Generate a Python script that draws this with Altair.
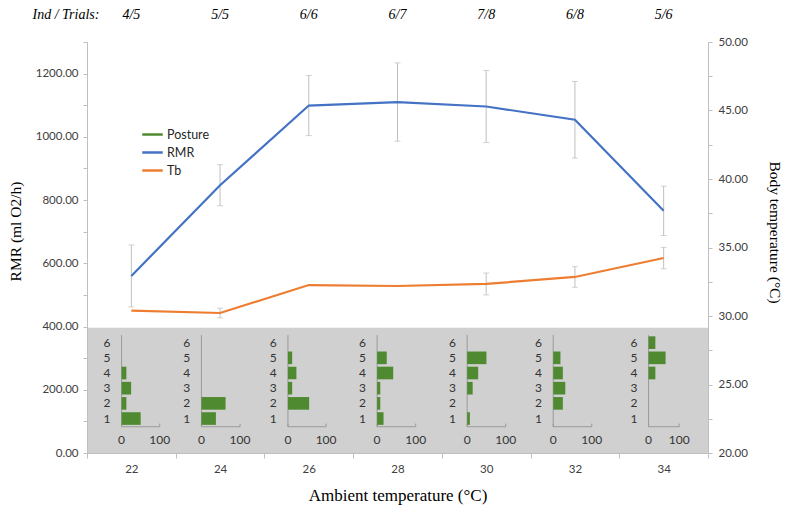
import altair as alt
import pandas as pd

# ---------------- data ----------------
temps = [22, 24, 26, 28, 30, 32, 34]
trials = ["4/5", "5/5", "6/6", "6/7", "7/8", "6/8", "5/6"]
rmr = [560, 847, 1099, 1110, 1096, 1054, 766]
rmr_err = [98, 65, 95, 124, 114, 121, 78]
tb = [30.39, 30.22, 32.26, 32.19, 32.34, 32.85, 34.23]
tb_err = [0, 0.35, 0, 0, 0.8, 0.75, 0.78]
posture_levels = [1, 2, 3, 4, 5, 6]
posture_1 = [50.0, 37.5, 0, 16.7, 7.1, 0, 0]
posture_2 = [12.5, 62.5, 55.6, 8.3, 0, 25.0, 0]
posture_3 = [25.0, 0, 11.1, 8.3, 14.3, 31.3, 0]
posture_4 = [12.5, 0, 22.2, 41.7, 28.6, 25.0, 22.2]
posture_5 = [0, 0, 11.1, 25.0, 50.0, 18.8, 55.6]
posture_6 = [0, 0, 0, 0, 0, 0, 22.2]
posture_pct = [posture_1, posture_2, posture_3, posture_4, posture_5, posture_6]
pct_ticks = [0, 100]

# ---------------- inset layout (in axis units) ----------------
inset_dx = [-0.22, -0.42, -0.47, -0.46, -0.43, -0.49, -0.34]
inset_w = [0.86, 0.87, 0.86, 0.87, 0.87, 0.87, 0.69]
LEVEL_Y0, LEVEL_STEP, BAR_HALF = 61, 48, 20
AX_BOTTOM, AX_TOP = 83, 373
LABEL_Y = 40
CAT_LABEL_DX = 0.33

GREEN = "#508a30"
BLUE = "#4472c4"
ORANGE = "#ed7d31"
GRAY_BG = "#d0d0d0"
ERR = "#bfbfbf"
AXIS_C = "#bfbfbf"
SANS = "Lato"
SERIF = "Liberation Serif"

main = pd.DataFrame({"temp": temps, "rmr": rmr, "rmr_err": rmr_err,
                     "tb": tb, "tb_err": tb_err, "trials": trials})
main["rmr_lo"] = main.rmr - main.rmr_err
main["rmr_hi"] = main.rmr + main.rmr_err
main["tb_lo"] = main.tb - main.tb_err
main["tb_hi"] = main.tb + main.tb_err
main["series_rmr"] = "RMR"
main["series_tb"] = "Tb"

bars, vax, hax, cat_lab, pct_lab, pct_tick = [], [], [], [], [], []
for i, t in enumerate(temps):
    x0 = t + inset_dx[i]
    w = inset_w[i]
    for L, arr in zip(posture_levels, posture_pct):
        yc = LEVEL_Y0 + LEVEL_STEP * L
        cat_lab.append({"x": x0 - CAT_LABEL_DX, "y": yc, "text": str(L)})
        if arr[i] > 0:
            bars.append({"x0": x0, "x1": x0 + arr[i] / 100 * w,
                         "y0": yc - BAR_HALF, "y1": yc + BAR_HALF})
    vax.append({"x": x0, "y0": AX_BOTTOM, "y1": AX_TOP})
    hax.append({"x0": x0, "x1": x0 + w, "y": AX_BOTTOM})
    for p in pct_ticks:
        pct_lab.append({"x": x0 + p / 100 * w, "y": LABEL_Y, "text": str(p)})
        pct_tick.append({"x": x0 + p / 100 * w, "y0": AX_BOTTOM, "y1": AX_BOTTOM + 10})
bars, vax, hax = pd.DataFrame(bars), pd.DataFrame(vax), pd.DataFrame(hax)
cat_lab, pct_lab, pct_tick = pd.DataFrame(cat_lab), pd.DataFrame(pct_lab), pd.DataFrame(pct_tick)

bg = pd.DataFrame({"x0": [21], "x1": [35], "y0": [0], "y1": [396]})
head = pd.DataFrame({"text": ["Ind / Trials:"]})

# ---------------- scales / axes ----------------
W, H = 621, 411
x_scale = alt.Scale(domain=[21, 35], nice=False, zero=False)
x_axis = alt.Axis(values=[21, 23, 25, 27, 29, 31, 33, 35],
                  labelExpr="datum.value < 35 ? toString(datum.value + 1) : ''",
                  labelOffset=W / 14, labelFlush=False, labelOverlap=False,
                  grid=False, tickSize=5, tickColor=AXIS_C, domainColor=AXIS_C,
                  labelPadding=5, labelFontSize=11.5, labelColor="#404040", labelFont=SANS,
                  title="Ambient temperature (°C)", titleFont=SERIF, titleFontSize=17,
                  titleFontWeight="normal", titleColor="black",
                  titleX=W / 2, titleY=47, titleBaseline="alphabetic", zindex=1)
yl_scale = alt.Scale(domain=[0, 1300], nice=False, zero=False)
yl_axis = alt.Axis(values=list(range(0, 1301, 100)),
                   labelExpr="datum.value % 200 === 0 ? format(datum.value, '.2f') : ''",
                   grid=False, tickSize=4, tickColor=AXIS_C, domainColor=AXIS_C,
                   labelPadding=5, labelFontSize=11.5, labelColor="#404040", labelFont=SANS,
                   labelOverlap=False,
                   title="RMR (ml O2/h)", titleFont=SERIF, titleFontSize=15.5,
                   titleFontWeight="normal", titleColor="black",
                   titleX=-72, titleY=189, titleAngle=270, titleAlign="center",
                   titleBaseline="middle", zindex=1)
yr_scale = alt.Scale(domain=[20, 50], nice=False, zero=False)
yr_axis = alt.Axis(orient="right", values=[20 + 2.5 * k for k in range(13)],
                   labelExpr="datum.value % 5 === 0 ? format(datum.value, '.2f') : ''",
                   grid=False, tickSize=4, tickColor=AXIS_C, domainColor=AXIS_C,
                   labelPadding=6, labelFontSize=11.5, labelColor="#404040", labelFont=SANS,
                   labelOverlap=False,
                   title="Body temperature (°C)", titleFont=SERIF, titleFontSize=15.5,
                   titleFontWeight="normal", titleColor="black",
                   titleX=66, titleY=190, titleAngle=90, titleAlign="center",
                   titleBaseline="middle", zindex=1)


def X(f):
    return alt.X(f, type="quantitative", scale=x_scale, axis=x_axis)


def YL(f):
    return alt.Y(f, type="quantitative", scale=yl_scale, axis=yl_axis)


def YR(f):
    return alt.Y(f, type="quantitative", scale=yr_scale, axis=yr_axis)


color_scale = alt.Scale(domain=["Posture", "RMR", "Tb"], range=[GREEN, BLUE, ORANGE])
color_legend = alt.Legend(title=None, orient="none", legendX=54, legendY=81,
                          symbolType="stroke", symbolSize=420, symbolStrokeWidth=2.5,
                          labelFont=SANS, labelFontSize=12.5, labelColor="#262626",
                          labelOffset=3, rowPadding=0, padding=0)


def C(f):
    return alt.Color(f, type="nominal", scale=color_scale, legend=color_legend)


# ---------------- left (RMR) group ----------------
rect_bg = alt.Chart(bg).mark_rect(color=GRAY_BG).encode(
    x=X("x0"), x2="x1", y=YL("y0"), y2="y1")

rmr_rule = alt.Chart(main).mark_rule(color=ERR, strokeWidth=1).encode(
    x=X("temp"), y=YL("rmr_lo"), y2="rmr_hi")
rmr_cap_lo = alt.Chart(main).mark_tick(color=ERR, orient="horizontal", size=6, thickness=1).encode(
    x=X("temp"), y=YL("rmr_lo"))
rmr_cap_hi = alt.Chart(main).mark_tick(color=ERR, orient="horizontal", size=6, thickness=1).encode(
    x=X("temp"), y=YL("rmr_hi"))
rmr_line = alt.Chart(main).mark_line(strokeWidth=2.2).encode(
    x=X("temp"), y=YL("rmr"), color=C("series_rmr"))

inset_bars = alt.Chart(bars).mark_rect(color=GREEN).encode(
    x=X("x0"), x2="x1", y=YL("y0"), y2="y1")
inset_v = alt.Chart(vax).mark_rule(color="#9a9a9a", strokeWidth=1).encode(
    x=X("x"), y=YL("y0"), y2="y1")
inset_h = alt.Chart(hax).mark_rule(color="#9a9a9a", strokeWidth=1).encode(
    x=X("x0"), x2="x1", y=YL("y"))
inset_t = alt.Chart(pct_tick).mark_rule(color="#9a9a9a", strokeWidth=1).encode(
    x=X("x"), y=YL("y0"), y2="y1")
inset_cat = alt.Chart(cat_lab).mark_text(font=SANS, fontSize=12, color="#333333",
                                         align="center", baseline="middle").encode(
    x=X("x"), y=YL("y"), text="text:N")
inset_pct = alt.Chart(pct_lab).mark_text(font=SANS, fontSize=12, color="#333333",
                                         align="center", baseline="middle").encode(
    x=X("x"), y=YL("y"), text="text:N")

trial_txt = alt.Chart(main).mark_text(font=SERIF, fontSize=14, fontStyle="italic",
                                      color="black", baseline="middle").encode(
    x=X("temp"), y=alt.value(-27), text="trials:N")
head_txt = alt.Chart(head).mark_text(font=SERIF, fontSize=14, fontStyle="italic",
                                     color="black", baseline="middle").encode(
    x=alt.value(-21), y=alt.value(-27), text="text:N")

left = alt.layer(rect_bg, rmr_rule, rmr_cap_lo, rmr_cap_hi, rmr_line,
                 inset_v, inset_h, inset_t, inset_bars, inset_cat, inset_pct,
                 trial_txt, head_txt)

# ---------------- right (Tb) group ----------------
main_tb = main[main.tb_err > 0]
tb_rule = alt.Chart(main_tb).mark_rule(color=ERR, strokeWidth=1).encode(
    x=X("temp"), y=YR("tb_lo"), y2="tb_hi")
tb_cap_lo = alt.Chart(main_tb).mark_tick(color=ERR, orient="horizontal", size=6, thickness=1).encode(
    x=X("temp"), y=YR("tb_lo"))
tb_cap_hi = alt.Chart(main_tb).mark_tick(color=ERR, orient="horizontal", size=6, thickness=1).encode(
    x=X("temp"), y=YR("tb_hi"))
tb_line = alt.Chart(main).mark_line(strokeWidth=2.2).encode(
    x=X("temp"), y=YR("tb"), color=C("series_tb"))

right = alt.layer(tb_rule, tb_cap_lo, tb_cap_hi, tb_line)

chart = alt.layer(left, right).resolve_scale(y="independent").properties(
    width=W, height=H,
    padding={"left": 79, "top": 34, "right": 74, "bottom": 54},
    autosize=alt.AutoSizeParams(type="none"),
    background="white",
).configure_view(stroke=None)

chart.save("out.html", embed_options={"renderer": "svg", "actions": False})
